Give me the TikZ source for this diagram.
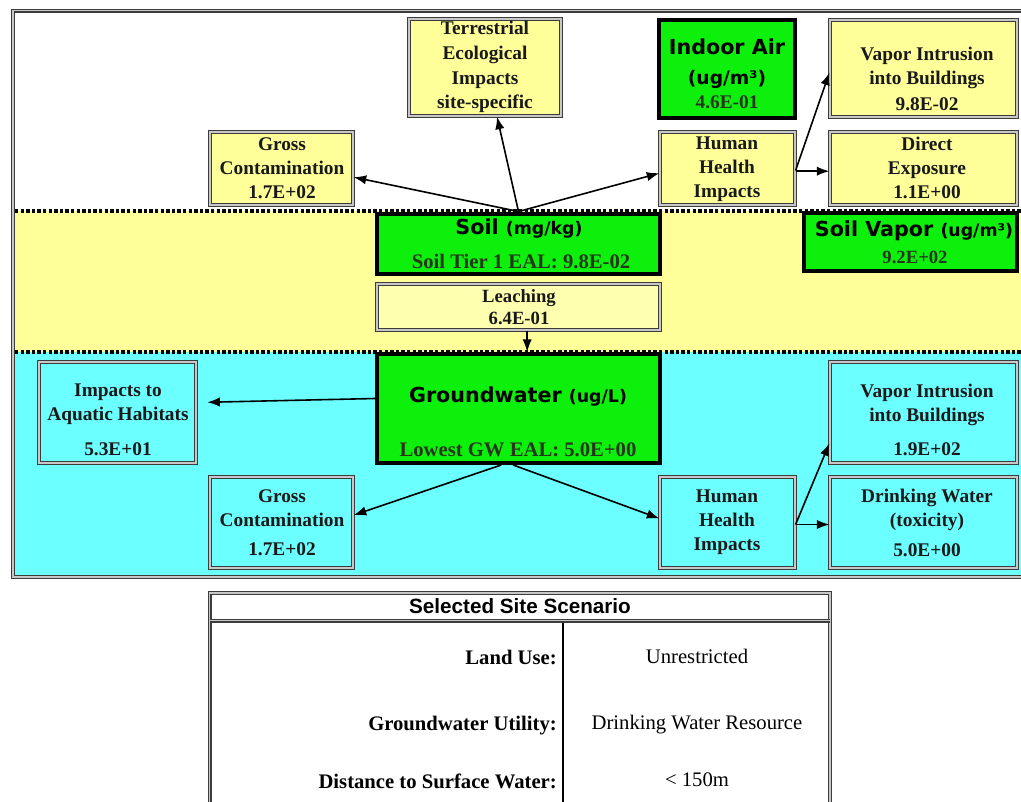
\documentclass[tikz,border=0pt]{standalone}
\usepackage{fontspec}
\setmainfont{Liberation Serif}
\setsansfont{DejaVu Sans}
\newfontfamily\arialfont{Liberation Sans}
\usetikzlibrary{arrows.meta,fit}
\definecolor{yel}{HTML}{FFFF99}
\definecolor{lyel}{HTML}{FFFFB0}
\definecolor{cya}{HTML}{6CFFFF}
\definecolor{grn}{HTML}{0CF00C}
\definecolor{dtx}{HTML}{26361A}
\definecolor{frm}{HTML}{3C3C3C}
\begin{document}
\begin{tikzpicture}[x=0.75pt,y=-0.75pt,
  dbl/.style={draw=frm, line width=0.85pt, double=black!22, double distance=1.3pt},
  ybox/.style={dbl, fill=yel, inner sep=0pt},
  lbox/.style={dbl, fill=lyel, inner sep=0pt},
  cbox/.style={dbl, fill=cya, inner sep=0pt},
  gbox/.style={draw=black, line width=3pt, fill=grn, inner sep=0pt},
  txt/.style={font=\bfseries\fontsize{14.5}{18}\selectfont, align=center, inner sep=0pt, text=black!90},
  gtxt/.style={font=\bfseries\fontsize{15.5}{18}\selectfont, align=center, inner sep=0pt, text=dtx},
  ttl/.style={font=\sffamily\bfseries\fontsize{15.5}{18}\selectfont, inner sep=0pt},
  arr/.style={-{Latex[length=9.5pt,width=7pt]}, line width=1.2pt},
  dots/.style={line width=2.4pt, dash pattern=on 2.6pt off 1.6pt},
  tlab/.style={font=\bfseries\fontsize{15.5}{18}\selectfont, inner sep=0pt, anchor=east},
  tval/.style={font=\fontsize{15.5}{18}\selectfont, inner sep=0pt}
]
\useasboundingbox (0,0) rectangle (1021,801);
\clip (0,0) rectangle (1021,801);
\fill[white] (0,0) rectangle (1021,801);
% regions
\fill[white] (13,11) rectangle (1030,211);
\fill[yel] (13,211) rectangle (1030,352);
\fill[cya] (13,352) rectangle (1030,577);
\draw[dbl] (13,10.5) rectangle (1030,577);
% dotted separators
\draw[dots] (15,211) -- (1030,211);
\draw[dots] (15,352) -- (1030,352);

% top zone
\node[ybox, fit={(409,19)(561,116)}] (terr) {};
\node[txt] (terrt) at (485,67) {Terrestrial\\[0.6pt]Ecological\\[0.6pt]Impacts\\[0.6pt]site-specific};
\node[gbox, fit={(659,20)(795,118)}] (iair) {};
\node[ttl] (iair1) at (727,47) {Indoor Air};
\node[ttl, font=\sffamily\bfseries\fontsize{14}{16}\selectfont] (iair2) at (727,79) {(ug/m³)};
\node[gtxt, font=\bfseries\fontsize{14.5}{18}\selectfont] (iair3) at (727,102) {4.6E-01};
\node[ybox, fit={(830,20)(1017,117)}] (vtop) {};
\node[txt] (vtopt) at (927,79) {Vapor Intrusion\\into Buildings\\[1.5pt]9.8E-02};
\node[ybox, fit={(210,132)(353,205)}] (gtop) {};
\node[txt] (gtopt) at (282,168) {Gross\\Contamination\\1.7E+02};
\node[ybox, fit={(660,132)(795,205)}] (hhtop) {};
\node[txt] (hhtopt) at (727,169) {Human\\Health\\Impacts};
\node[ybox, fit={(830,132)(1017,205)}] (dir) {};
\node[txt] (dirt) at (927,168) {Direct\\Exposure\\1.1E+00};

% soil zone
\node[gbox, fit={(377,213.5)(660,273.5)}] (soil) {};
\node[ttl] (soil1) at (519,229) {Soil {\fontsize{13}{16}\selectfont(mg/kg)}};
\node[gtxt] (soil2) at (521,261) {Soil Tier 1 EAL: 9.8E-02};
\node[gbox, fit={(804,213)(1017,271)}] (svap) {};
\node[ttl] (svap1) at (914,231) {Soil Vapor {\fontsize{13}{16}\selectfont(ug/m³)}};
\node[gtxt, font=\bfseries\fontsize{14}{18}\selectfont] (svap2) at (915,257) {9.2E+02};
\node[lbox, fit={(377,284)(660,330)}] (leach) {};
\node[txt, font=\bfseries\fontsize{14}{16.5}\selectfont] (leacht) at (519,307) {Leaching\\6.4E-01};

% groundwater zone
\node[gbox, fit={(377,354)(660,463)}] (gw) {};
\node[ttl] (gw1) at (518,397) {Groundwater {\fontsize{13}{16}\selectfont(ug/L)}};
\node[gtxt] (gw2) at (518,450) {Lowest GW EAL: 5.0E+00};
\node[cbox, fit={(39,362)(196,463)}] (aq) {};
\node[txt] (aqt) at (118,420) {Impacts to\\Aquatic Habitats\\[8pt]5.3E+01};
\node[cbox, fit={(830,362)(1017,463)}] (vbot) {};
\node[txt] (vbott) at (927,420) {Vapor Intrusion\\into Buildings\\[8pt]1.9E+02};
\node[cbox, fit={(210,477)(353,568)}] (gbot) {};
\node[txt] (gbott) at (282,523) {Gross\\Contamination\\[4pt]1.7E+02};
\node[cbox, fit={(660,477)(795,568)}] (hhbot) {};
\node[txt] (hhbott) at (727,522) {Human\\Health\\Impacts};
\node[cbox, fit={(830,477)(1017,568)}] (dw) {};
\node[txt] (dwt) at (927,523) {Drinking Water\\(toxicity)\\[4pt]5.0E+00};

% arrows top
\draw[arr] (soil.north) -- ([yshift=-6.5pt]gtop.east);
\draw[arr] (soil.north) -- ([xshift=9pt]terr.south);
\draw[arr] (soil.north) -- ([yshift=-3.5pt]hhtop.west);
\draw[arr] ([yshift=-1.5pt]hhtop.east) -- ([yshift=-3pt]vtop.west);
\draw[arr] ([yshift=-2pt]hhtop.east) -- ([yshift=-2pt]dir.west);
% leaching
\draw[arr] ([xshift=6.5pt]leach.south) -- ([xshift=6.5pt]gw.north);
% groundwater arrows
\draw[arr, shorten >=8pt] ([yshift=7.5pt]gw.west) -- ([yshift=7.5pt]aq.east);
\draw[arr] ([xshift=-13pt]gw.south) -- ([yshift=5.5pt]gbot.east);
\draw[arr] ([xshift=-4pt]gw.south) -- ([yshift=3pt]hhbot.west);
\draw[arr] ([yshift=-1.5pt]hhbot.east) -- ([yshift=-23pt]vbot.west);
\draw[arr] ([yshift=-1.5pt]hhbot.east) -- ([yshift=-1.5pt]dw.west);

% table
\node[dbl, fill=white, inner sep=0pt, fit={(209.5,593)(830,806)}] (tab) {};
\draw[dbl] (209.5,620.5) -- (830,620.5);
\coordinate (ctop) at (563,622.5);
\coordinate (cbot) at (563,806);
\draw[line width=1.5pt] (ctop) -- (cbot);
\node[font=\arialfont\bfseries\fontsize{15.5}{18}\selectfont, inner sep=0pt] (thead) at (520,606) {Selected Site Scenario};
\node[tlab] (l1) at (557,657) {Land Use:};
\node[tlab] (l2) at (557,726) {Groundwater Utility:};
\node[tlab] (l3) at (557,781) {Distance to Surface Water:};
\node[tval] (v1) at (697,656) {Unrestricted};
\node[tval] (v2) at (697,725) {Drinking Water Resource};
\node[tval] (v3) at (697,780) {< 150m};
\end{tikzpicture}
\end{document}
